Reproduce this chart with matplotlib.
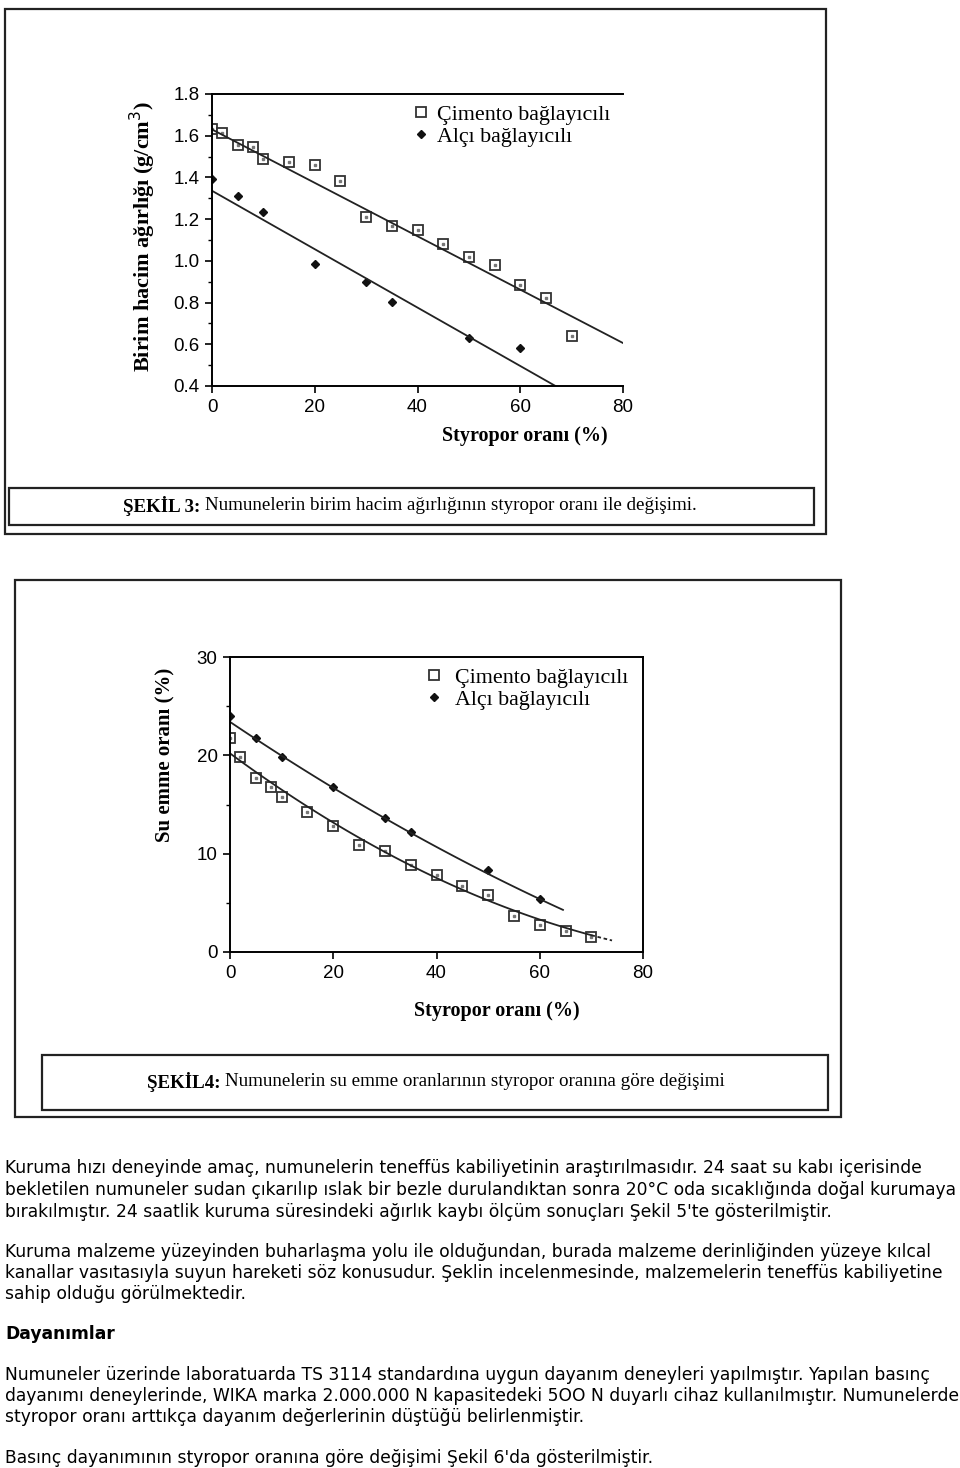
import numpy as np
import matplotlib
matplotlib.use("Agg")
import matplotlib.pyplot as plt
from matplotlib.patches import Rectangle
from matplotlib.ticker import MultipleLocator

# --- Şekil 3: birim hacim ağırlığı ---
cim_x3 = [0, 2, 5, 8, 10, 15, 20, 25, 30, 35, 40, 45, 50, 55, 60, 65, 70]
cim_y3 = [1.632, 1.611, 1.557, 1.544, 1.488, 1.472, 1.461, 1.384, 1.211,
          1.166, 1.150, 1.083, 1.019, 0.981, 0.883, 0.824, 0.640]
alc_x3 = [0, 5, 10, 20, 30, 35, 50, 60]
alc_y3 = [1.392, 1.312, 1.234, 0.984, 0.900, 0.805, 0.629, 0.581]
cim_fit3 = (1.630, -0.0128)   # intercept, slope
alc_fit3 = (1.336, -0.0140)

# --- Şekil 4: su emme oranı ---
cim_x4 = [0, 2, 5, 8, 10, 15, 20, 25, 30, 35, 40, 45, 50, 55, 60, 65, 70]
cim_y4 = [21.8, 19.8, 17.7, 16.8, 15.8, 14.2, 12.8, 10.9, 10.3, 8.8, 7.8,
          6.7, 5.8, 3.7, 2.7, 2.1, 1.5]
alc_x4 = [0, 5, 10, 20, 30, 35, 50, 60]
alc_y4 = [24.0, 21.8, 19.8, 16.8, 13.6, 12.2, 8.3, 5.4]
cim_fit4 = (0.001755, -0.387, 20.2)   # quadratic coefficients
alc_fit4 = (0.000878, -0.353, 23.4)

cim_label = "Çimento bağlayıcılı"
alc_label = "Alçı bağlayıcılı"

paragraphs = [
    ["Kuruma hızı deneyinde amaç, numunelerin teneffüs kabiliyetinin araştırılmasıdır. 24 saat su kabı içerisinde",
     "bekletilen numuneler sudan çıkarılıp ıslak bir bezle durulandıktan sonra 20°C oda sıcaklığında doğal kurumaya",
     "bırakılmıştır. 24 saatlik kuruma süresindeki ağırlık kaybı ölçüm sonuçları Şekil 5'te gösterilmiştir."],
    ["Kuruma malzeme yüzeyinden buharlaşma yolu ile olduğundan, burada malzeme derinliğinden yüzeye kılcal",
     "kanallar vasıtasıyla suyun hareketi söz konusudur. Şeklin incelenmesinde, malzemelerin teneffüs kabiliyetine",
     "sahip olduğu görülmektedir."],
    ["Numuneler üzerinde laboratuarda TS 3114 standardına uygun dayanım deneyleri yapılmıştır. Yapılan basınç",
     "dayanımı deneylerinde, WIKA marka 2.000.000 N kapasitedeki 5OO N duyarlı cihaz kullanılmıştır. Numunelerde",
     "styropor oranı arttıkça dayanım değerlerinin düştüğü belirlenmiştir."],
    ["Basınç dayanımının styropor oranına göre değişimi Şekil 6'da gösterilmiştir."],
]
para_y = [[1168, 1190, 1212], [1252, 1273, 1294], [1375, 1396, 1417], [1458]]

W, H = 960, 1468
fig = plt.figure(figsize=(W / 100, H / 100), dpi=100)
fig.patch.set_facecolor("white")


def axes_px(left, top, right, bottom):
    return fig.add_axes([left / W, 1 - bottom / H, (right - left) / W, (bottom - top) / H])


def box_px(left, top, right, bottom, lw=1.6):
    fig.add_artist(Rectangle((left / W, 1 - bottom / H), (right - left) / W, (bottom - top) / H,
                             transform=fig.transFigure, fill=False, ec="#222222", lw=lw))


serif = "Liberation Serif"
sans = "Liberation Sans"

# frames
box_px(5, 9, 826, 534)
box_px(9, 488, 814, 525)
box_px(15, 580, 841, 1117)
box_px(42, 1055, 828, 1110)


def style_axes(ax, right_spine):
    ax.spines["right"].set_visible(right_spine)
    for s in ax.spines.values():
        s.set_linewidth(1.4)
    ax.tick_params(which="major", direction="out", length=5, width=1.2, labelsize=13.5, pad=4)
    ax.tick_params(which="minor", direction="out", length=3, width=1.0)
    ax.tick_params(right=False, top=False, which="both")
    for lab in ax.get_xticklabels() + ax.get_yticklabels():
        lab.set_fontfamily(sans)


# ---------- chart 1 ----------
ax1 = axes_px(212, 94, 623, 386)
ax1.plot(cim_x3, cim_y3, "s", ms=7, mfc="white", mec="#333333", mew=1.3, ls="none", label=cim_label)
ax1.plot(cim_x3, cim_y3, "s", ms=1.5, color="#777777", ls="none")
ax1.plot(alc_x3, alc_y3, "D", ms=4.5, color="#111111", ls="none", label=alc_label)
xl = np.array([0, 80])
ax1.plot(xl, cim_fit3[0] + cim_fit3[1] * xl, color="#222222", lw=1.3)
xl2 = np.array([0, (0.4 - alc_fit3[0]) / alc_fit3[1]])
ax1.plot(xl2, alc_fit3[0] + alc_fit3[1] * xl2, color="#222222", lw=1.3)
ax1.set_xlim(0, 80)
ax1.set_ylim(0.4, 1.8)
ax1.xaxis.set_major_locator(MultipleLocator(20))
ax1.yaxis.set_major_locator(MultipleLocator(0.2))
ax1.yaxis.set_minor_locator(MultipleLocator(0.1))
ax1.xaxis.set_major_formatter(matplotlib.ticker.FormatStrFormatter("%d"))
ax1.yaxis.set_major_formatter(matplotlib.ticker.FormatStrFormatter("%.1f"))
style_axes(ax1, False)
ax1.legend(loc="upper left", bbox_to_anchor=(0.445, 1.01), frameon=False,
           prop={"family": serif, "size": 15.8}, handletextpad=0.1, labelspacing=0.1,
           borderaxespad=0.2, handlelength=1.2)
fig.text(143 / W, 1 - 237 / H, "Birim hacim ağırlığı (g/cm$^3$)", rotation=90, ha="center", va="center",
         family=serif, weight="bold", fontsize=16)
fig.text(608 / W, 1 - 436 / H, "Styropor oranı (%)", ha="right", va="center",
         family=serif, weight="bold", fontsize=14.5)

# ---------- chart 2 ----------
ax2 = axes_px(230, 657, 643, 952)
ax2.plot(cim_x4, cim_y4, "s", ms=7, mfc="white", mec="#333333", mew=1.3, ls="none", label=cim_label)
ax2.plot(cim_x4, cim_y4, "s", ms=1.5, color="#777777", ls="none")
ax2.plot(alc_x4, alc_y4, "D", ms=4.5, color="#111111", ls="none", label=alc_label)
xc = np.linspace(0, 70, 100)
ax2.plot(xc, np.polyval(cim_fit4, xc), color="#222222", lw=1.3)
xd = np.linspace(70, 74, 10)
ax2.plot(xd, np.polyval(cim_fit4, xd), color="#222222", lw=1.3, ls=(0, (2, 1.5)))
xa = np.linspace(0, 64.5, 100)
ax2.plot(xa, np.polyval(alc_fit4, xa), color="#222222", lw=1.3)
ax2.set_xlim(0, 80)
ax2.set_ylim(0, 30)
ax2.xaxis.set_major_locator(MultipleLocator(20))
ax2.yaxis.set_major_locator(MultipleLocator(10))
ax2.yaxis.set_minor_locator(MultipleLocator(5))
style_axes(ax2, True)
ax2.legend(loc="upper left", bbox_to_anchor=(0.43, 1.01), frameon=False,
           prop={"family": serif, "size": 15.8}, handletextpad=0.35, labelspacing=0.1,
           borderaxespad=0.2, handlelength=1.2)
fig.text(165 / W, 1 - 755 / H, "Su emme oranı (%)", rotation=90, ha="center", va="center",
         family=serif, weight="bold", fontsize=15)
fig.text(580 / W, 1 - 1011 / H, "Styropor oranı (%)", ha="right", va="center",
         family=serif, weight="bold", fontsize=14.5)

# ---------- captions ----------
renderer = fig.canvas.get_renderer()


def caption(x_center, y, bold_part, rest, size=13.7):
    tb = fig.text(0, 1 - y / H, bold_part, family=serif, weight="bold", fontsize=size, va="center")
    tr = fig.text(0, 1 - y / H, rest, family=serif, fontsize=size, va="center")
    wb = tb.get_window_extent(renderer).width
    wr = tr.get_window_extent(renderer).width
    x0 = x_center - (wb + wr) / 2
    tb.set_x(x0 / W)
    tr.set_x((x0 + wb) / W)


caption(410, 506, "ŞEKİL 3: ", "Numunelerin birim hacim ağırlığının styropor oranı ile değişimi.")
caption(436, 1082, "ŞEKİL4: ", "Numunelerin su emme oranlarının styropor oranına göre değişimi")

# ---------- body text ----------
for lines, ys in zip(paragraphs, para_y):
    for line, y in zip(lines, ys):
        fig.text(5 / W, 1 - y / H, line, family="DejaVu Sans", fontsize=12.3, va="center")
fig.text(5 / W, 1 - 1334 / H, "Dayanımlar", family="DejaVu Sans", weight="bold", fontsize=12.3, va="center")

fig.savefig("out.png", dpi=100)
